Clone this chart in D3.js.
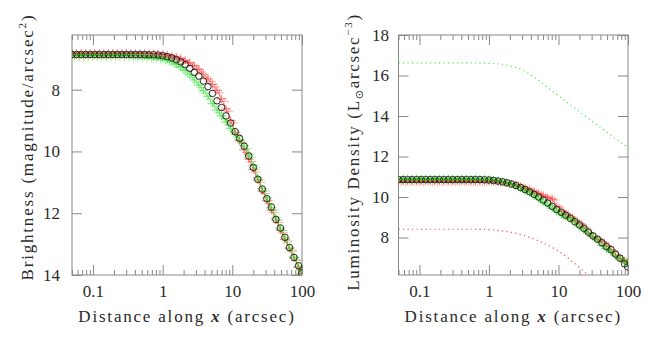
<!DOCTYPE html>
<html><head><meta charset="utf-8">
<script src="https://cdn.jsdelivr.net/npm/d3@7"></script>
<style>
body{margin:0;background:#fff}
text{font-family:"Liberation Serif","Times New Roman",serif;fill:#2a2a2a}
</style>
</head><body>
<svg id="c" width="664" height="340"></svg>
<script>
// ---- data ----
const xs = [0.0501,0.0582,0.0676,0.0785,0.0912,0.106,0.123,0.143,0.166,0.193,0.224,0.260,0.302,0.351,0.407,0.473,0.550,0.638,0.741,0.861,
  1.00,1.16,1.35,1.57,1.82,2.11,2.45,2.85,3.31,3.85,4.47,5.19,6.03,7.00,8.13,9.44,11.0,12.7,14.8,17.2,20.0,23.2,26.9,31.3,36.3,42.2,49.0,56.9,66.1,76.7,89.1,99];
const brightObs = [6.86,6.86,6.86,6.86,6.86,6.86,6.86,6.86,6.86,6.86,6.86,6.86,6.86,6.86,6.86,6.86,6.86,6.87,6.87,6.88,
  6.90,6.93,6.97,7.03,7.10,7.19,7.31,7.44,7.56,7.72,7.90,8.12,8.36,8.58,8.85,9.08,9.36,9.58,9.83,10.15,10.52,10.90,11.22,11.53,11.80,12.20,12.48,12.78,13.11,13.43,13.70,13.93];
const brightRed = [6.82,6.82,6.82,6.82,6.82,6.82,6.82,6.82,6.82,6.82,6.82,6.82,6.82,6.82,6.82,6.82,6.82,6.82,6.83,6.84,
  6.85,6.87,6.90,6.94,6.99,7.05,7.13,7.23,7.35,7.50,7.65,7.83,8.02,8.30,8.62,9.00,9.38,9.65,9.95,10.25,10.58,10.92,11.28,11.60,11.90,12.22,12.55,12.85,13.15,13.45,13.75,13.96];
const brightGreen = [6.88,6.88,6.88,6.88,6.88,6.88,6.88,6.88,6.88,6.88,6.88,6.88,6.88,6.89,6.89,6.90,6.91,6.92,6.94,6.96,
  6.99,7.03,7.09,7.17,7.27,7.38,7.52,7.68,7.85,8.03,8.22,8.45,8.66,8.85,9.05,9.25,9.45,9.62,9.82,10.10,10.45,10.85,11.20,11.50,11.82,12.15,12.48,12.80,13.12,13.42,13.72,13.96];
const densObs = [10.86,10.86,10.86,10.86,10.86,10.86,10.86,10.86,10.86,10.86,10.86,10.86,10.86,10.86,10.86,10.86,10.86,10.86,10.86,10.85,
  10.84,10.82,10.79,10.75,10.70,10.64,10.57,10.47,10.37,10.26,10.13,10.00,9.85,9.70,9.54,9.38,9.25,9.10,8.95,8.78,8.62,8.45,8.27,8.08,7.92,7.74,7.55,7.40,7.18,6.98,6.70,6.55];
const densRed = [10.78,10.78,10.78,10.78,10.78,10.78,10.78,10.78,10.78,10.78,10.78,10.78,10.78,10.78,10.78,10.78,10.78,10.78,10.78,10.78,
  10.78,10.77,10.75,10.73,10.70,10.66,10.60,10.53,10.45,10.37,10.27,10.17,10.07,9.98,9.90,9.55,9.32,9.18,9.02,8.85,8.70,8.52,8.25,8.05,7.92,7.80,7.60,7.40,7.15,6.98,6.85,6.75];
const densGreen = [10.90,10.90,10.90,10.90,10.90,10.90,10.90,10.90,10.90,10.90,10.90,10.90,10.90,10.90,10.90,10.90,10.90,10.90,10.89,10.89,
  10.88,10.85,10.82,10.77,10.71,10.64,10.55,10.44,10.32,10.20,10.07,9.92,9.77,9.62,9.45,9.30,9.12,9.02,8.92,8.78,8.55,8.40,8.22,8.05,7.90,7.62,7.45,7.30,7.10,6.95,6.82,6.70];
const modelX = [0.05,0.1,0.2,0.5,1,1.5,2,3,4,5,7,10,15,20,30,50,70,100];
const modelGreen = [16.62,16.62,16.62,16.62,16.60,16.56,16.48,16.28,16.03,15.80,15.40,15.00,14.55,14.22,13.75,13.20,12.82,12.44];
const modelRed = [8.41,8.41,8.41,8.41,8.39,8.33,8.27,8.13,7.98,7.85,7.62,7.33,6.88,6.52,6.00,5.40,5.00,4.60];
const xTickValues = [0.1,1,10,100];
const xTickLabels = ["0.1","1","10","100"];
const leftYTicks = [8,10,12,14];
const rightYTicks = [8,10,12,14,16,18];

// ---- drawing ----
const svg = d3.select("#c");
const frameCol = "#888";
const yTop = 35, yBot = 275;

function panel(opt){
  const g = svg.append("g");
  const x = d3.scaleLog().domain([0.05,100]).range([opt.x0, opt.x1]);
  const y = d3.scaleLinear().domain(opt.yDomain).range(opt.yRange);
  const id = "clip"+opt.name;
  svg.append("clipPath").attr("id",id).append("rect")
     .attr("x",opt.x0).attr("y",yTop).attr("width",opt.x1-opt.x0).attr("height",yBot-yTop);
  const minor = x.ticks().filter(t => !xTickValues.some(m => Math.abs(m-t)/m < 1e-6));
  g.append("rect").attr("x",opt.x0).attr("y",yTop).attr("width",opt.x1-opt.x0).attr("height",yBot-yTop)
    .attr("fill","none").attr("stroke",frameCol).attr("stroke-width",1);
  const styleAxis = a => { a.select(".domain").remove(); a.selectAll("line").attr("stroke",frameCol); };
  const ab = g.append("g").attr("transform",`translate(0,${yBot})`)
    .call(d3.axisBottom(x).tickValues(xTickValues).tickFormat((d,i)=>xTickLabels[i]).tickSize(-10).tickPadding(10));
  styleAxis(ab);
  ab.selectAll("text").attr("font-size",17).attr("fill","#2a2a2a");
  const abm = g.append("g").attr("transform",`translate(0,${yBot})`)
    .call(d3.axisBottom(x).tickValues(minor).tickFormat("").tickSize(-5));
  styleAxis(abm);
  const at = g.append("g").attr("transform",`translate(0,${yTop})`)
    .call(d3.axisTop(x).tickValues(xTickValues).tickFormat("").tickSize(-10));
  styleAxis(at);
  const atm = g.append("g").attr("transform",`translate(0,${yTop})`)
    .call(d3.axisTop(x).tickValues(minor).tickFormat("").tickSize(-5));
  styleAxis(atm);
  const al = g.append("g").attr("transform",`translate(${opt.x0},0)`)
    .call(d3.axisLeft(y).tickValues(opt.yTicks).tickFormat(d3.format("d")).tickSize(-10).tickPadding(opt.yPad));
  styleAxis(al);
  al.selectAll("text").attr("font-size",17).attr("fill","#2a2a2a");
  const ar = g.append("g").attr("transform",`translate(${opt.x1},0)`)
    .call(d3.axisRight(y).tickValues(opt.yTicks).tickFormat("").tickSize(-10));
  styleAxis(ar);

  const data = g.append("g").attr("clip-path",`url(#${id})`);
  if (opt.models){
    opt.models.forEach(m=>{
      data.append("path").datum(modelX.map((d,i)=>[d,m.vals[i]]))
        .attr("d",d3.line().x(d=>x(d[0])).y(d=>y(d[1])).curve(d3.curveMonotoneX))
        .attr("fill","none").attr("stroke",m.col).attr("stroke-width",1.2)
        .attr("stroke-dasharray","1.2,3.3");
    });
  }
  const plus = "M-5,0H5M0,-4V4";
  [[opt.red,"#ff1a1a"],[opt.green,"#12e012"]].forEach(([vals,col])=>{
    const pts = xs.map((d,i)=>[d,vals[i]]);
    data.append("path").datum(pts)
      .attr("d",d3.line().x(d=>x(d[0])).y(d=>y(d[1])))
      .attr("fill","none").attr("stroke",col).attr("stroke-width",1).attr("stroke-opacity",0.55);
    data.selectAll(null).data(pts).enter().append("path")
      .attr("d",plus).attr("transform",d=>`translate(${x(d[0])},${y(d[1])})`)
      .attr("stroke",col).attr("stroke-width",1.2).attr("stroke-opacity",0.5).attr("fill","none");
    data.selectAll(null).data(pts).enter().append("path")
      .attr("d",plus).attr("transform",d=>`translate(${x(d[0])+2.5},${y(d[1])+ (opt.name==="L"?2.5:1)})`)
      .attr("stroke",col).attr("stroke-width",1).attr("stroke-opacity",0.35).attr("fill","none");
  });
  data.selectAll(null).data(xs.map((d,i)=>[d,opt.obs[i]])).enter().append("circle")
    .attr("cx",d=>x(d[0])).attr("cy",d=>y(d[1])).attr("r",3.3)
    .attr("fill","none").attr("stroke","#1a1a1a").attr("stroke-width",0.9);

  const xt = g.append("text").attr("x",(opt.x0+opt.x1)/2).attr("y",322)
    .attr("text-anchor","middle").attr("font-size",17).attr("letter-spacing","1.8px");
  xt.append("tspan").text("Distance along ");
  xt.append("tspan").attr("font-weight","bold").attr("font-style","italic").text("x");
  xt.append("tspan").text(" (arcsec)");
  return {g,x,y};
}

const L = panel({name:"L", x0:72, x1:302, yDomain:[6.23,14], yRange:[yTop,yBot], yTicks:leftYTicks, yPad:12,
  obs:brightObs, red:brightRed, green:brightGreen});
const R = panel({name:"R", x0:398.5, x1:628, yDomain:[6.15,18], yRange:[yBot,yTop], yTicks:rightYTicks, yPad:9.5,
  obs:densObs, red:densRed, green:densGreen,
  models:[{vals:modelGreen,col:"#44ee44"},{vals:modelRed,col:"#ff4a4a"}]});

const yt1 = svg.append("text").attr("transform","translate(33,147) rotate(-90)")
  .attr("text-anchor","middle").attr("font-size",17).attr("letter-spacing","1.8px");
yt1.append("tspan").text("Brightness (magnitude/arcsec");
yt1.append("tspan").attr("font-size",11).attr("dy",-7).text("2");
yt1.append("tspan").attr("dy",7).text(")");

const yt2 = svg.append("text").attr("transform","translate(358.5,152) rotate(-90)")
  .attr("text-anchor","middle").attr("font-size",17).attr("letter-spacing","1.7px");
yt2.append("tspan").text("Luminosity Density (L");
yt2.append("tspan").attr("font-size",11).attr("dy",4).attr("font-family","DejaVu Sans").text("⊙");
yt2.append("tspan").attr("dy",-4).text("arcsec");
yt2.append("tspan").attr("font-size",11).attr("dy",-7).text("−3");
yt2.append("tspan").attr("dy",7).text(")");
</script>
</body></html>
